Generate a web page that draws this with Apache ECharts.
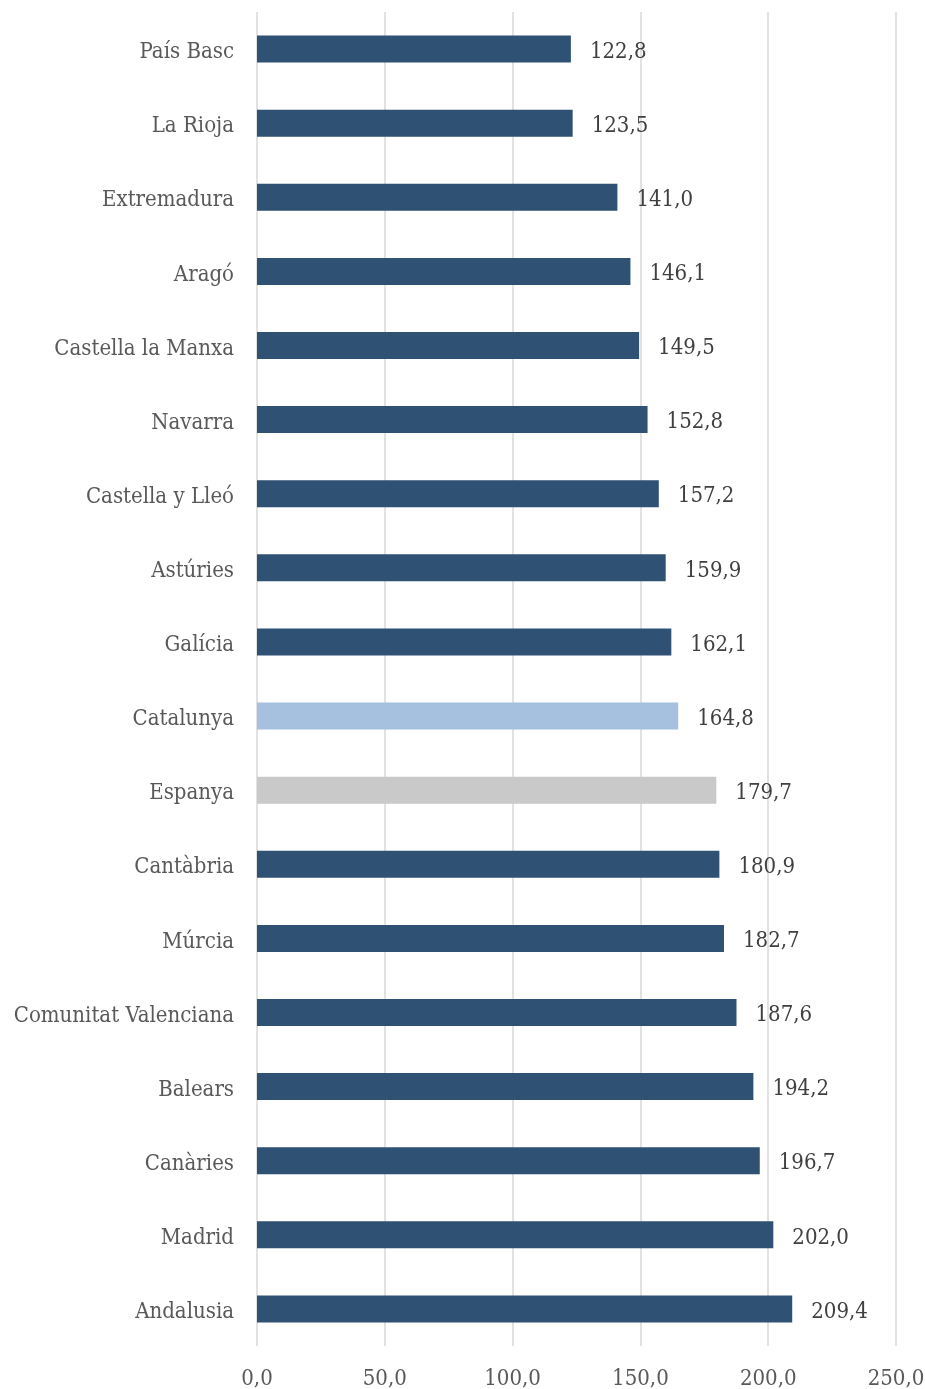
<!DOCTYPE html>
<html><head><meta charset="utf-8">
<script src="https://cdn.jsdelivr.net/npm/echarts@6/dist/echarts.min.js"></script>
<style>html,body{margin:0;padding:0;background:#fff}#c{width:925px;height:1389px}</style>
</head><body><div id="c"></div>
<script>
const categories = ["País Basc","La Rioja","Extremadura","Aragó","Castella la Manxa","Navarra","Castella y Lleó","Astúries","Galícia","Catalunya","Espanya","Cantàbria","Múrcia","Comunitat Valenciana","Balears","Canàries","Madrid","Andalusia"];
const values = [122.8,123.5,141.0,146.1,149.5,152.8,157.2,159.9,162.1,164.8,179.7,180.9,182.7,187.6,194.2,196.7,202.0,209.4];
const xTicks = [0,50,100,150,200,250];
const colorDefault = '#2e5174';
const colorHighlight = {"Catalunya":'#a6c0df',"Espanya":'#c9c9c9'};
const font = '"DejaVu Serif Condensed", "DejaVu Serif", "Liberation Serif", serif';
const fmt = v => v.toFixed(1).replace('.', ',');
const chart = echarts.init(document.getElementById('c'));
chart.setOption({
  animation:false,
  grid:{left:257,right:29,top:12,bottom:43,containLabel:false,outerBoundsMode:'none'},
  xAxis:{type:'value',min:0,max:250,interval:50,
    axisLabel:{formatter:v=>fmt(v),color:'#595959',fontFamily:font,fontSize:22,margin:22},
    splitLine:{show:true,lineStyle:{color:'#d9d9d9',width:1.5}},
    axisLine:{show:false},axisTick:{show:false}},
  yAxis:{type:'category',data:categories,inverse:true,
    axisLabel:{color:'#595959',fontFamily:font,fontSize:22,margin:23,verticalAlign:'top',lineHeight:7},
    axisLine:{show:false},axisTick:{show:false}},
  series:[{type:'bar',barWidth:27,
    data:values.map((v,i)=>({value:v,itemStyle:{color:colorHighlight[categories[i]]||colorDefault}})),
    label:{show:true,position:'right',distance:19,offset:[0,3],formatter:p=>fmt(p.value),color:'#404040',fontFamily:font,fontSize:22}}]
});
</script></body></html>
